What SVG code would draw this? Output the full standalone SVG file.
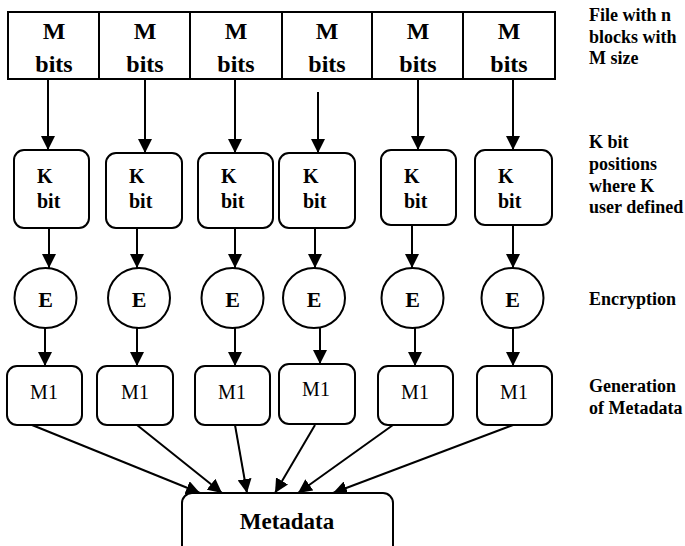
<svg xmlns="http://www.w3.org/2000/svg" width="685" height="546" viewBox="0 0 685 546">
<style>
.ln{stroke:#000;stroke-width:2;fill:none}
.bx{stroke:#000;stroke-width:2;fill:#fff}
text{fill:#000}
.top{font-size:24px;font-weight:bold;text-anchor:middle}
.k{font-size:20px;font-weight:bold}
.e{font-size:22px;font-weight:bold;text-anchor:middle}
.m1{font-size:20px;text-anchor:middle}
.lab{font-size:18px;font-weight:bold}
</style>
<defs>
<marker id="ah" markerWidth="14" markerHeight="14" refX="14" refY="7" orient="auto" markerUnits="userSpaceOnUse">
<path d="M0,0 L14,7 L0,14 z" fill="#000"/>
</marker>
</defs>
<rect width="685" height="546" fill="#fff"/>
<g id="connectors">
<line class="ln" x1="48" y1="79" x2="48" y2="150" marker-end="url(#ah)"/>
<line class="ln" x1="145" y1="79" x2="145" y2="153" marker-end="url(#ah)"/>
<line class="ln" x1="235" y1="79" x2="235" y2="153" marker-end="url(#ah)"/>
<line class="ln" x1="318" y1="92" x2="318" y2="153" marker-end="url(#ah)"/>
<line class="ln" x1="418" y1="79" x2="418" y2="150" marker-end="url(#ah)"/>
<line class="ln" x1="513" y1="79" x2="513" y2="150" marker-end="url(#ah)"/>
<line class="ln" x1="49" y1="228" x2="49" y2="268" marker-end="url(#ah)"/>
<line class="ln" x1="137" y1="228" x2="137" y2="268" marker-end="url(#ah)"/>
<line class="ln" x1="235" y1="228" x2="235" y2="268" marker-end="url(#ah)"/>
<line class="ln" x1="315" y1="228" x2="315" y2="268" marker-end="url(#ah)"/>
<line class="ln" x1="412" y1="225" x2="412" y2="268" marker-end="url(#ah)"/>
<line class="ln" x1="513" y1="225" x2="513" y2="268" marker-end="url(#ah)"/>
<line class="ln" x1="45" y1="328" x2="45" y2="366" marker-end="url(#ah)"/>
<line class="ln" x1="137" y1="328" x2="137" y2="366" marker-end="url(#ah)"/>
<line class="ln" x1="235" y1="328" x2="235" y2="366" marker-end="url(#ah)"/>
<line class="ln" x1="320" y1="324" x2="320" y2="364" marker-end="url(#ah)"/>
<line class="ln" x1="415" y1="328" x2="415" y2="366" marker-end="url(#ah)"/>
<line class="ln" x1="513" y1="328" x2="513" y2="366" marker-end="url(#ah)"/>
<line class="ln" x1="32" y1="425" x2="200" y2="493" marker-end="url(#ah)"/>
<line class="ln" x1="137" y1="425" x2="222" y2="493" marker-end="url(#ah)"/>
<line class="ln" x1="235" y1="425" x2="247" y2="493" marker-end="url(#ah)"/>
<line class="ln" x1="315" y1="425" x2="275" y2="493" marker-end="url(#ah)"/>
<line class="ln" x1="393" y1="425" x2="298" y2="493" marker-end="url(#ah)"/>
<line class="ln" x1="513" y1="425" x2="333" y2="493" marker-end="url(#ah)"/>
</g>
<g font-family="'Liberation Serif', 'DejaVu Serif', serif">
<g id="file">
<rect class="bx" x="8" y="12" width="547" height="67"/>
<line class="ln" x1="99" y1="12" x2="99" y2="79"/>
<line class="ln" x1="190" y1="12" x2="190" y2="79"/>
<line class="ln" x1="282" y1="12" x2="282" y2="79"/>
<line class="ln" x1="372" y1="12" x2="372" y2="79"/>
<line class="ln" x1="463" y1="12" x2="463" y2="79"/>
<text class="top" x="54" y="39">M</text><text class="top" x="54" y="72">bits</text>
<text class="top" x="145" y="39">M</text><text class="top" x="145" y="72">bits</text>
<text class="top" x="236" y="39">M</text><text class="top" x="236" y="72">bits</text>
<text class="top" x="327" y="39">M</text><text class="top" x="327" y="72">bits</text>
<text class="top" x="418" y="39">M</text><text class="top" x="418" y="72">bits</text>
<text class="top" x="509" y="39">M</text><text class="top" x="509" y="72">bits</text>
</g>
<g id="k1"><rect class="bx" x="14" y="150" width="75" height="78" rx="10"/><text class="k" x="37" y="183">K</text><text class="k" x="37" y="208">bit</text></g>
<g id="k2"><rect class="bx" x="106" y="153" width="76" height="75" rx="10"/><text class="k" x="129" y="183">K</text><text class="k" x="129" y="208">bit</text></g>
<g id="k3"><rect class="bx" x="198" y="153" width="75" height="75" rx="10"/><text class="k" x="221" y="183">K</text><text class="k" x="221" y="208">bit</text></g>
<g id="k4"><rect class="bx" x="279" y="153" width="76" height="75" rx="10"/><text class="k" x="303" y="183">K</text><text class="k" x="303" y="208">bit</text></g>
<g id="k5"><rect class="bx" x="381" y="150" width="75" height="75" rx="10"/><text class="k" x="404" y="183">K</text><text class="k" x="404" y="208">bit</text></g>
<g id="k6"><rect class="bx" x="475" y="150" width="77" height="75" rx="10"/><text class="k" x="498" y="183">K</text><text class="k" x="498" y="208">bit</text></g>
<g id="e1"><ellipse class="bx" cx="45.5" cy="298" rx="31" ry="30"/><text class="e" x="45.5" y="307">E</text></g>
<g id="e2"><ellipse class="bx" cx="139" cy="298" rx="31" ry="30"/><text class="e" x="139" y="307">E</text></g>
<g id="e3"><ellipse class="bx" cx="232.5" cy="298" rx="31" ry="30"/><text class="e" x="232.5" y="307">E</text></g>
<g id="e4"><ellipse class="bx" cx="314" cy="298" rx="31" ry="30"/><text class="e" x="314" y="307">E</text></g>
<g id="e5"><ellipse class="bx" cx="412.5" cy="298" rx="31" ry="30"/><text class="e" x="412.5" y="307">E</text></g>
<g id="e6"><ellipse class="bx" cx="512.5" cy="298" rx="31" ry="30"/><text class="e" x="512.5" y="307">E</text></g>
<g id="m1a"><rect class="bx" x="7" y="366" width="75" height="59" rx="10"/><text class="m1" x="44" y="399">M1</text></g>
<g id="m1b"><rect class="bx" x="97" y="366" width="76" height="59" rx="10"/><text class="m1" x="135" y="399">M1</text></g>
<g id="m1c"><rect class="bx" x="195" y="366" width="75" height="59" rx="10"/><text class="m1" x="232" y="399">M1</text></g>
<g id="m1d"><rect class="bx" x="279" y="364" width="76" height="60" rx="10"/><text class="m1" x="316" y="396">M1</text></g>
<g id="m1e"><rect class="bx" x="378" y="366" width="75" height="59" rx="10"/><text class="m1" x="415" y="399">M1</text></g>
<g id="m1f"><rect class="bx" x="477" y="366" width="75" height="59" rx="10"/><text class="m1" x="514" y="399">M1</text></g>
<g id="metadata"><rect class="bx" x="182" y="493" width="211" height="70" rx="10"/><text x="287" y="529" font-size="23" font-weight="bold" text-anchor="middle">Metadata</text></g>
<g id="labels">
<text class="lab" x="589" y="21">File with n</text>
<text class="lab" x="589" y="43">blocks with</text>
<text class="lab" x="589" y="64">M size</text>
<text class="lab" x="589" y="148">K bit</text>
<text class="lab" x="589" y="170">positions</text>
<text class="lab" x="589" y="192">where K</text>
<text class="lab" x="589" y="213">user defined</text>
<text class="lab" x="589" y="305">Encryption</text>
<text class="lab" x="589" y="392">Generation</text>
<text class="lab" x="589" y="414">of Metadata</text>
</g>
</g>
</svg>
